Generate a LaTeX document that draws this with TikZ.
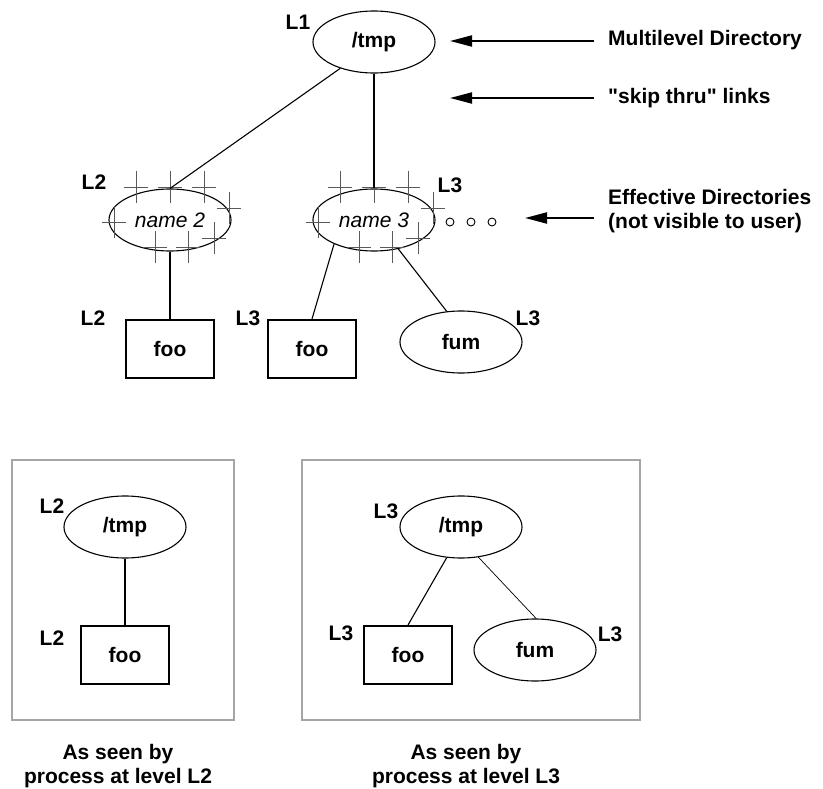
\documentclass[tikz,border=0pt]{standalone}
\usepackage{fontspec}
\setmainfont{Liberation Sans}
\usetikzlibrary{shapes.geometric,arrows.meta}

\begin{document}
\begin{tikzpicture}[x=1pt,y=-1pt,
  every node/.style={font=\fontsize{21}{24}\selectfont\bfseries},
  dirnode/.style={draw,ellipse,line width=1.1pt,minimum width=122pt,minimum height=62pt,inner sep=0pt},
  filebox/.style={draw,rectangle,line width=2pt,minimum width=88pt,minimum height=58pt,inner sep=0pt},
  effnode/.style={dirnode,font=\fontsize{21}{24}\selectfont\itshape},
  lvl/.style={inner sep=0pt},
  note/.style={anchor=base west,inner sep=0pt,align=left},
  caption/.style={inner sep=0pt,align=center},
  pointer/.style={line width=2pt,-{Triangle[length=22pt,width=11pt]}},
  thinlink/.style={line width=1.1pt},
  thicklink/.style={line width=2pt},
  tick/.style={line width=0.9pt,black!65},
  dot/.style={draw,circle,line width=0.9pt,minimum size=8pt,inner sep=0pt},
  panel/.style={draw=black!35,line width=1.5pt}
]
\useasboundingbox (0,0) rectangle (823,789);

% ---------- multilevel directory ----------
\node[dirnode] (tmp) at (374,42) {/tmp};
\node[lvl] (l1) at (298,22) {L1};

\node[effnode] (name2) at (170,220) {name 2};
\node[effnode] (name3) at (374,220) {name 3};
\node[lvl] (l2a) at (94,182) {L2};
\node[lvl] (l3a) at (450,185) {L3};

% cross marks around the effective directories
\foreach \c in {170,374}{
  \foreach \dx/\dy in {-34/-33,0/-33,34/-33,59/-12,-56/2,44/18,-15/27,18/27}{
    \draw[tick] (\c+\dx-12,220+\dy) -- (\c+\dx+12,220+\dy);
    \draw[tick] (\c+\dx,220+\dy-16) -- (\c+\dx,220+\dy+16);
  }
}

\node[dot] (d1) at (450,222) {};
\node[dot] (d2) at (471,222) {};
\node[dot] (d3) at (492,222) {};

\node[filebox] (foo1) at (170,349) {foo};
\node[filebox] (foo2) at (312,349) {foo};
\node[dirnode] (fum) at (461,342) {fum};
\node[lvl] (l2b) at (93,318) {L2};
\node[lvl] (l3b) at (248,318) {L3};
\node[lvl] (l3c) at (528,318) {L3};

\draw[thinlink] (tmp.218) -- (name2.north);
\draw[thicklink] (tmp.south) -- (name3.north);
\draw[thicklink] (name2.south) -- (foo1.north);
\draw[thinlink] (name3.211) -- (foo2.north);
\draw[thinlink] (name3.310) -- (fum.115);

% ---------- notes on the right ----------
\node[note] (n1) at (608,46) {Multilevel Directory};
\node[note] (n2) at (608,104) {\textquotedbl skip thru\textquotedbl{} links};
\node[note] (n3) at (608,229) {Effective Directories\\(not visible to user)};

\coordinate (a1tail) at (594,41);  \coordinate (a1tip) at (450,41);
\coordinate (a2tail) at (594,98);  \coordinate (a2tip) at (450,98);
\coordinate (a3tail) at (594,218); \coordinate (a3tip) at (525,218);
\draw[pointer] (a1tail) -- (a1tip);
\draw[pointer] (a2tail) -- (a2tip);
\draw[pointer] (a3tail) -- (a3tip);

% ---------- view from level L2 ----------
\draw[panel] (12,460) rectangle (234,720);
\node[dirnode] (ptmp2) at (125,527) {/tmp};
\node[filebox] (pfoo2) at (125,655) {foo};
\node[lvl] (pl2a) at (52,506) {L2};
\node[lvl] (pl2b) at (52,638) {L2};
\draw[thicklink] (ptmp2.south) -- (pfoo2.north);
\node[caption] (cap2) at (118,766) {As seen by\\process at level L2};

% ---------- view from level L3 ----------
\draw[panel] (302,460) rectangle (640,720);
\node[dirnode] (ptmp3) at (461,527) {/tmp};
\node[filebox] (pfoo3) at (408,655) {foo};
\node[dirnode] (pfum3) at (535,650) {fum};
\node[lvl] (pl3a) at (386,511) {L3};
\node[lvl] (pl3b) at (341,633) {L3};
\node[lvl] (pl3c) at (610,634) {L3};
\draw[thinlink] (ptmp3.245) -- (pfoo3.north);
\draw[line width=0.7pt] (ptmp3.300) -- (pfum3.88);
\node[caption] (cap3) at (466,766) {As seen by\\process at level L3};
\end{tikzpicture}
\end{document}
